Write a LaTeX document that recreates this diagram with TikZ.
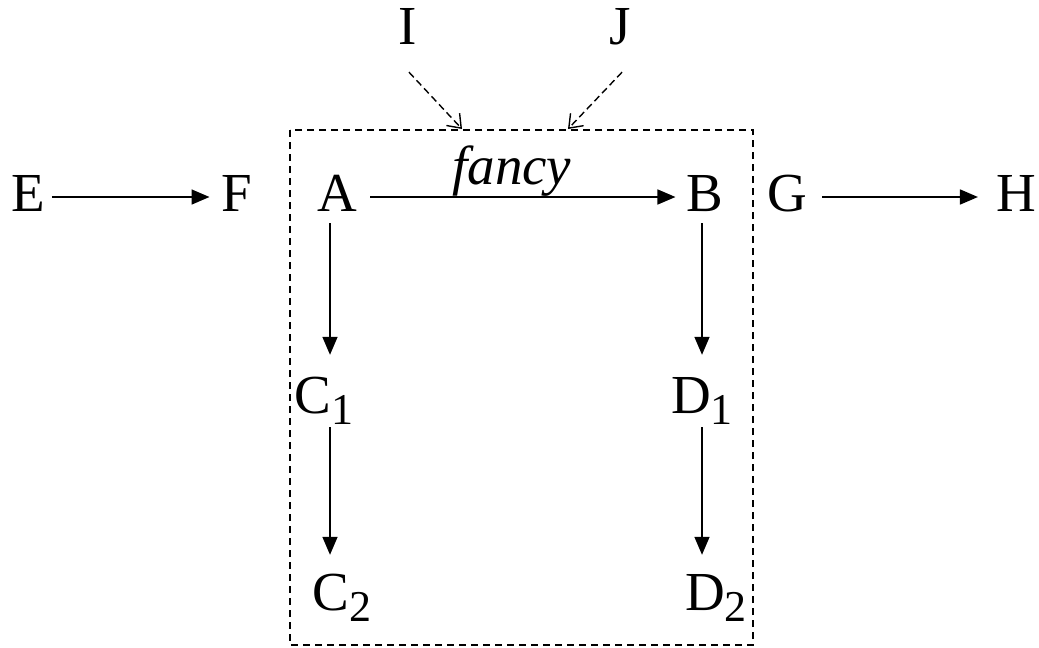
\documentclass[tikz,border=0pt]{standalone}
\usepackage{fontspec}
\setmainfont{Liberation Serif}
\usetikzlibrary{arrows.meta,calc}
\newcommand{\subtxt}[1]{\raisebox{-11pt}{\fontsize{44}{48}\selectfont #1}}
\begin{document}
\begin{tikzpicture}[x=1pt,y=-1pt,
  lbl/.style={font=\fontsize{55}{60}\selectfont, inner sep=3pt, anchor=base,
              text height=37pt, text depth=9pt},
  arr/.style={line width=1.6pt, -{Triangle[length=18pt,width=15pt]}},
  darr/.style={line width=1.4pt, dash pattern=on 7pt off 4pt,
               -{Straight Barb[length=12pt,width=18pt]}},
  boxline/.style={line width=1.8pt, dash pattern=on 7pt off 5pt},
  lab/.style={font=\fontsize{55}{60}\selectfont\itshape, inner sep=0pt}
  ]
\useasboundingbox (0,0) rectangle (1039,648);

\node[lbl] (E) at (28,211) {E};
\node[lbl] (F) at (237,211) {F};
\node[lbl] (A) at (337,211) {A};
\node[lbl] (B) at (705,211) {B};
\node[lbl] (G) at (787,211) {G};
\node[lbl] (H) at (1016,211) {H};
\node[lbl] (I) at (408,44) {I};
\node[lbl] (J) at (620,44) {J};
\node[lbl] (C1) at (324,413) {C\subtxt{1}};
\node[lbl] (D1) at (702,413) {D\subtxt{1}};
\node[lbl] (C2) at (342,610) {C\subtxt{2}};
\node[lbl] (D2) at (716,610) {D\subtxt{2}};

\draw[boxline] (290,130) rectangle (753,645);
\coordinate (ti) at (462,129);
\coordinate (tj) at (568,129);
\coordinate (colL) at (330,0);
\coordinate (colR) at (702,0);

\draw[arr, shorten <=4pt, shorten >=9pt] (E) -- (F);
\draw[arr, shorten <=10pt, shorten >=8pt] (A) -- node[lab, midway, above, xshift=-10pt] {fancy} (B);
\draw[arr, shorten <=12pt, shorten >=15pt] (G) -- (H);

\draw[arr, shorten >=18pt] (A.south -| colL) -- (C1.north -| colL);
\draw[arr, shorten <=2pt, shorten >=15pt] (C1.south -| colL) -- (C2.north -| colL);
\draw[arr, shorten >=18pt] (B.south -| colR) -- (D1.north -| colR);
\draw[arr, shorten <=2pt, shorten >=15pt] (D1.south -| colR) -- (D2.north -| colR);

\draw[darr] ([xshift=1pt,yshift=-16pt]I.south) -- (ti);
\draw[darr] ([xshift=2pt,yshift=-16pt]J.south) -- (tj);
\end{tikzpicture}
\end{document}
